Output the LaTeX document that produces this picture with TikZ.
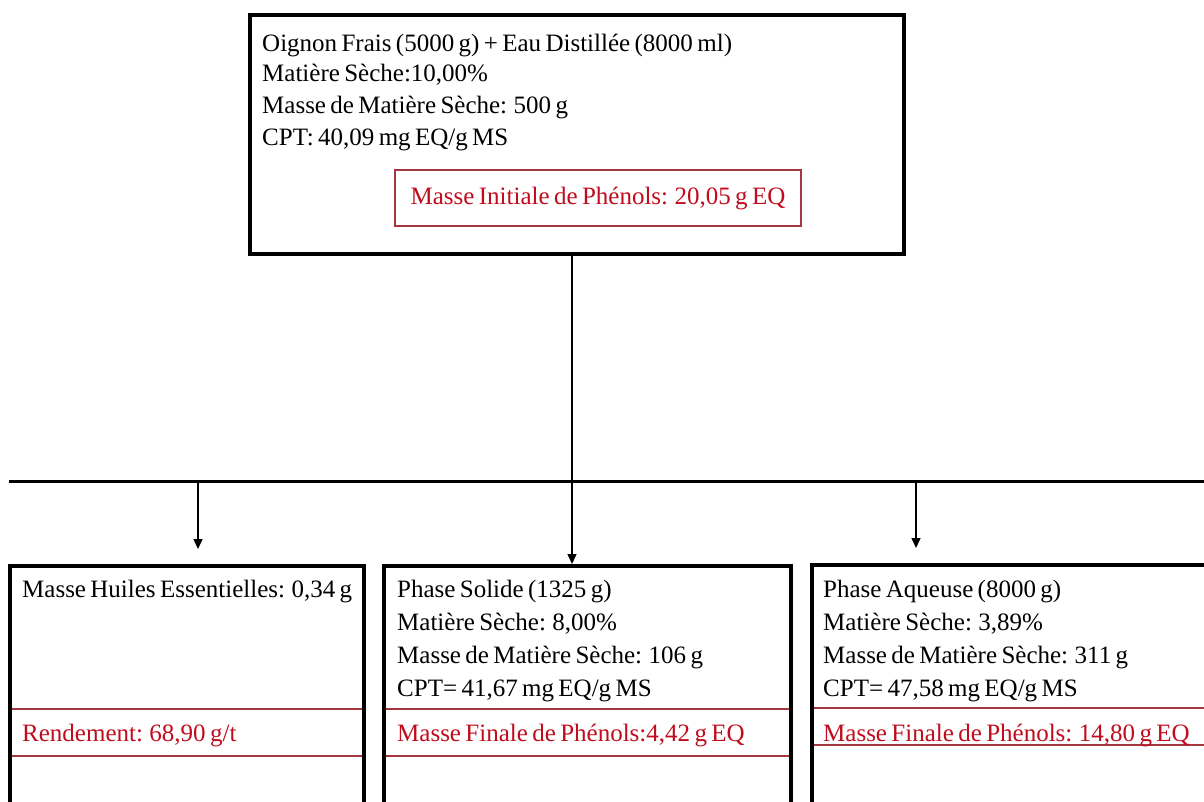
\documentclass[tikz,border=0pt]{standalone}
\usepackage{fontspec}
\setmainfont[WordSpace=0.7]{Liberation Serif}
\usetikzlibrary{arrows.meta}
\definecolor{redtxt}{RGB}{192,12,28}
\definecolor{redline}{RGB}{165,55,65}
\begin{document}
\begin{tikzpicture}[x=1pt,y=-1pt,
  box/.style={draw=black,line width=4pt,inner sep=0pt,outer sep=0pt,anchor=north west},
  band/.style={draw=redline,line width=1.2pt,inner sep=0pt,outer sep=0pt,anchor=north west},
  txt/.style={anchor=base west,inner sep=0pt,font=\fontsize{25}{30}\selectfont,text=black},
  rtxt/.style={txt,text=redtxt},
  link/.style={line width=2.5pt},
  bus/.style={line width=3pt},
  arr/.style={line width=1.4pt,-{Triangle[length=10pt,width=9pt]}}]
\useasboundingbox (0,0) rectangle (1204,802);
\clip (0,0) rectangle (1204,802);
\fill[white] (0,0) rectangle (1204,802);

% top box
\node[band,minimum width=406pt,minimum height=56pt] (init) at (395,170) {};
\node[box,minimum width=654pt,minimum height=239pt] (top) at (250,15) {};
\node[txt] (t1) at (262,52) {Oignon Frais (5000 g) + Eau Distillée (8000 ml)};
\node[txt] (t2) at (262,82) {Matière Sèche:10,00\%};
\node[txt] (t3) at (262,114) {Masse de Matière Sèche: 500 g};
\node[txt] (t4) at (262,146) {CPT: 40,09 mg EQ/g MS};
\node[rtxt,anchor=base] (initT) at (598,205) {Masse Initiale de Phénols: 20,05 g EQ};

% bottom bands
\node[band,minimum width=354pt,minimum height=47pt] (bandL) at (10,709) {};
\node[band,minimum width=407pt,minimum height=47pt] (bandM) at (384,709) {};
\node[band,minimum width=420pt,minimum height=37pt] (bandR) at (812,708) {};

% bottom boxes
\node[box,minimum width=354pt,minimum height=260pt] (left) at (10,566) {};
\node[box,minimum width=407pt,minimum height=260pt] (mid) at (384,566) {};
\node[box,minimum width=420pt,minimum height=260pt] (right) at (812,565) {};

\node[txt] (l1) at (22,597) {Masse Huiles Essentielles: 0,34 g};
\node[rtxt] (lR) at (22,741) {Rendement: 68,90 g/t};

\node[txt] (m1) at (397,597) {Phase Solide (1325 g)};
\node[txt] (m2) at (397,630) {Matière Sèche: 8,00\%};
\node[txt] (m3) at (397,663) {Masse de Matière Sèche: 106 g};
\node[txt] (m4) at (397,696) {CPT= 41,67 mg EQ/g MS};
\node[rtxt] (mR) at (397,741) {Masse Finale de Phénols:4,42 g EQ};

\node[txt] (r1) at (823,597) {Phase Aqueuse (8000 g)};
\node[txt] (r2) at (823,630) {Matière Sèche: 3,89\%};
\node[txt] (r3) at (823,663) {Masse de Matière Sèche: 311 g};
\node[txt] (r4) at (823,696) {CPT= 47,58 mg EQ/g MS};
\node[rtxt] (rR) at (823,741) {Masse Finale de Phénols: 14,80 g EQ};

% connectors
\coordinate (j) at (572,481);
\coordinate (busL) at (9,481);
\coordinate (busR) at (1210,481);
\coordinate (aL) at (198,481);
\coordinate (aR) at (916,481);
\draw[link] (j |- top.south) -- (j);
\draw[bus] (busL) -- (busR);
\draw[arr,shorten >=17pt] (aL) -- (aL |- left.north);
\draw[arr,shorten >=2pt] (j) -- (j |- mid.north);
\draw[arr,shorten >=17pt] (aR) -- (aR |- right.north);
\end{tikzpicture}
\end{document}
